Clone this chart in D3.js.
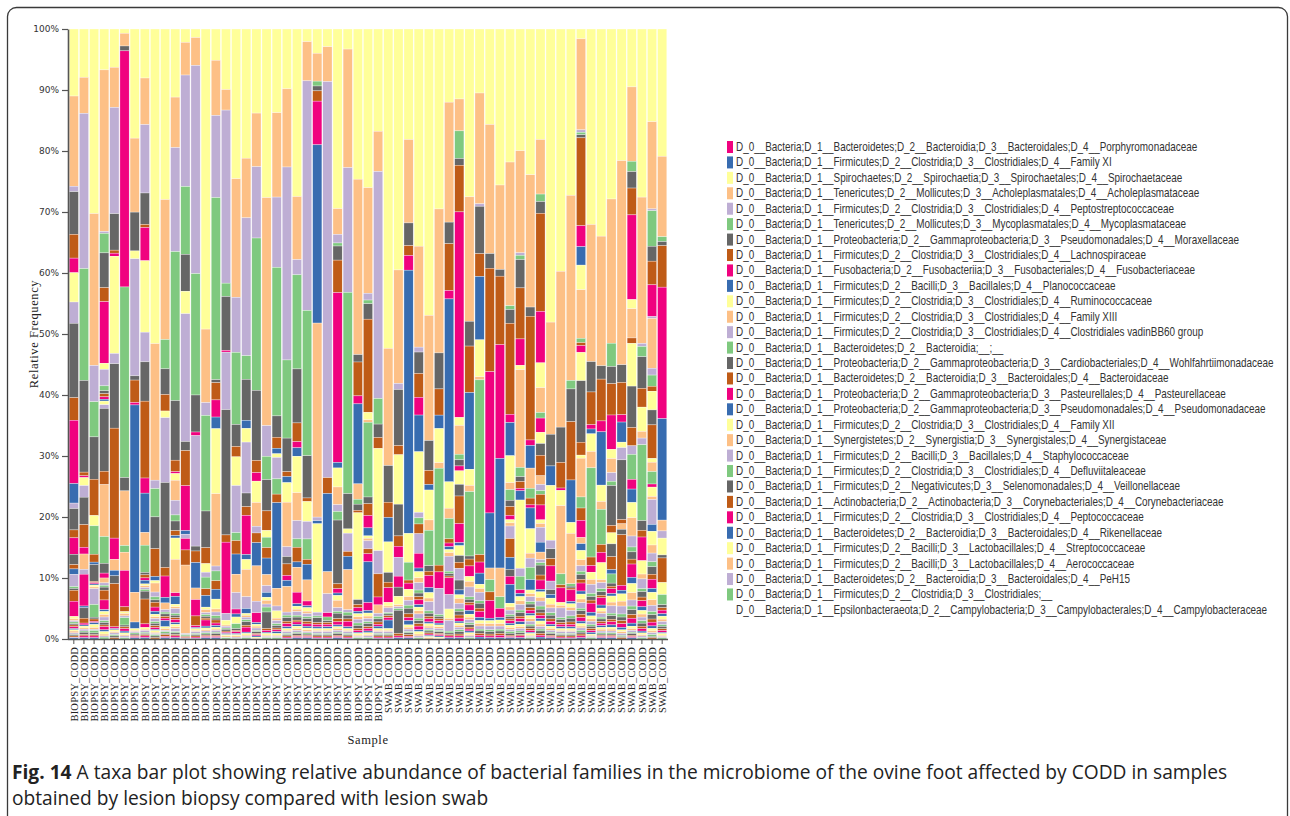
<!DOCTYPE html>
<html>
<head>
<meta charset="utf-8">
<script src="https://cdn.jsdelivr.net/npm/d3@7"></script>
<style>
  html, body { margin: 0; padding: 0; background: #fff; }
  svg { display: block; }
</style>
</head>
<body>
<svg id="chart" width="1290" height="816"></svg>
<script>
// ---- Sample names (x axis), one per bar ----
const sampleLabels = [
  "BIOPSY_CODD","BIOPSY_CODD","BIOPSY_CODD","BIOPSY_CODD","BIOPSY_CODD","BIOPSY_CODD","BIOPSY_CODD","BIOPSY_CODD",
  "BIOPSY_CODD","BIOPSY_CODD","BIOPSY_CODD","BIOPSY_CODD","BIOPSY_CODD","BIOPSY_CODD","BIOPSY_CODD","BIOPSY_CODD",
  "BIOPSY_CODD","BIOPSY_CODD","BIOPSY_CODD","BIOPSY_CODD","BIOPSY_CODD","BIOPSY_CODD","BIOPSY_CODD","BIOPSY_CODD",
  "BIOPSY_CODD","BIOPSY_CODD","BIOPSY_CODD","BIOPSY_CODD","BIOPSY_CODD","BIOPSY_CODD","BIOPSY_CODD",
  "SWAB_CODD","SWAB_CODD","SWAB_CODD","SWAB_CODD","SWAB_CODD","SWAB_CODD","SWAB_CODD","SWAB_CODD",
  "SWAB_CODD","SWAB_CODD","SWAB_CODD","SWAB_CODD","SWAB_CODD","SWAB_CODD","SWAB_CODD","SWAB_CODD",
  "SWAB_CODD","SWAB_CODD","SWAB_CODD","SWAB_CODD","SWAB_CODD","SWAB_CODD","SWAB_CODD","SWAB_CODD",
  "SWAB_CODD","SWAB_CODD","SWAB_CODD","SWAB_CODD"
];

// ---- Family names listed in the legend ----
const taxa = [
  "D_0__Bacteria;D_1__Bacteroidetes;D_2__Bacteroidia;D_3__Bacteroidales;D_4__Porphyromonadaceae",
  "D_0__Bacteria;D_1__Firmicutes;D_2__Clostridia;D_3__Clostridiales;D_4__Family XI",
  "D_0__Bacteria;D_1__Spirochaetes;D_2__Spirochaetia;D_3__Spirochaetales;D_4__Spirochaetaceae",
  "D_0__Bacteria;D_1__Tenericutes;D_2__Mollicutes;D_3__Acholeplasmatales;D_4__Acholeplasmataceae",
  "D_0__Bacteria;D_1__Firmicutes;D_2__Clostridia;D_3__Clostridiales;D_4__Peptostreptococcaceae",
  "D_0__Bacteria;D_1__Tenericutes;D_2__Mollicutes;D_3__Mycoplasmatales;D_4__Mycoplasmataceae",
  "D_0__Bacteria;D_1__Proteobacteria;D_2__Gammaproteobacteria;D_3__Pseudomonadales;D_4__Moraxellaceae",
  "D_0__Bacteria;D_1__Firmicutes;D_2__Clostridia;D_3__Clostridiales;D_4__Lachnospiraceae",
  "D_0__Bacteria;D_1__Fusobacteria;D_2__Fusobacteriia;D_3__Fusobacteriales;D_4__Fusobacteriaceae",
  "D_0__Bacteria;D_1__Firmicutes;D_2__Bacilli;D_3__Bacillales;D_4__Planococcaceae",
  "D_0__Bacteria;D_1__Firmicutes;D_2__Clostridia;D_3__Clostridiales;D_4__Ruminococcaceae",
  "D_0__Bacteria;D_1__Firmicutes;D_2__Clostridia;D_3__Clostridiales;D_4__Family XIII",
  "D_0__Bacteria;D_1__Firmicutes;D_2__Clostridia;D_3__Clostridiales;D_4__Clostridiales vadinBB60 group",
  "D_0__Bacteria;D_1__Bacteroidetes;D_2__Bacteroidia;__;__",
  "D_0__Bacteria;D_1__Proteobacteria;D_2__Gammaproteobacteria;D_3__Cardiobacteriales;D_4__Wohlfahrtiimonadaceae",
  "D_0__Bacteria;D_1__Bacteroidetes;D_2__Bacteroidia;D_3__Bacteroidales;D_4__Bacteroidaceae",
  "D_0__Bacteria;D_1__Proteobacteria;D_2__Gammaproteobacteria;D_3__Pasteurellales;D_4__Pasteurellaceae",
  "D_0__Bacteria;D_1__Proteobacteria;D_2__Gammaproteobacteria;D_3__Pseudomonadales;D_4__Pseudomonadaceae",
  "D_0__Bacteria;D_1__Firmicutes;D_2__Clostridia;D_3__Clostridiales;D_4__Family XII",
  "D_0__Bacteria;D_1__Synergistetes;D_2__Synergistia;D_3__Synergistales;D_4__Synergistaceae",
  "D_0__Bacteria;D_1__Firmicutes;D_2__Bacilli;D_3__Bacillales;D_4__Staphylococcaceae",
  "D_0__Bacteria;D_1__Firmicutes;D_2__Clostridia;D_3__Clostridiales;D_4__Defluviitaleaceae",
  "D_0__Bacteria;D_1__Firmicutes;D_2__Negativicutes;D_3__Selenomonadales;D_4__Veillonellaceae",
  "D_0__Bacteria;D_1__Actinobacteria;D_2__Actinobacteria;D_3__Corynebacteriales;D_4__Corynebacteriaceae",
  "D_0__Bacteria;D_1__Firmicutes;D_2__Clostridia;D_3__Clostridiales;D_4__Peptococcaceae",
  "D_0__Bacteria;D_1__Bacteroidetes;D_2__Bacteroidia;D_3__Bacteroidales;D_4__Rikenellaceae",
  "D_0__Bacteria;D_1__Firmicutes;D_2__Bacilli;D_3__Lactobacillales;D_4__Streptococcaceae",
  "D_0__Bacteria;D_1__Firmicutes;D_2__Bacilli;D_3__Lactobacillales;D_4__Aerococcaceae",
  "D_0__Bacteria;D_1__Bacteroidetes;D_2__Bacteroidia;D_3__Bacteroidales;D_4__PeH15",
  "D_0__Bacteria;D_1__Firmicutes;D_2__Clostridia;D_3__Clostridiales;__",
  "D_0__Bacteria;D_1__Epsilonbacteraeota;D_2__Campylobacteria;D_3__Campylobacterales;D_4__Campylobacteraceae"
];

// ---- Relative abundance (%) per sample, listed from the top of each bar downwards ----
const biopsyAbundance = [
  [11,14.8,0.9,0,7,3.9,2.4,0, 4.8,0,3.5,0,12.2,3.7,10.4,3.2, 0,0,0.9,0,3.5,1.3,2.7,0, 0,0,0,0,1.7,0.7,0,0.9, 0,0,2,0.3,0.3,1.8,2.5,0, 0.4,0.3,0.2,0.3,0.2,0.3,0.3,0.2, 0.2,0.3,0.2,0.1,0.2,0.2,0.1,0.2],
  [7.9,5.9,25.4,18.3,15,0.6,0.3,0, 1.3,0,1.9,0,4.5,3.7,1.1,0, 0,2.5,0.8,0,0,0,5.2,0.3, 0,0,0,0,1.7,0.8,0.3,0.2, 0.3,0.2,0.3,0.2,0.4,0.2,0.3,0.2],
  [30.5,25.1,6,5.8,7,6,0,0, 1.7,0,0,4.7,0,1.3,0,0.4, 0,0,0,0,2.8,0.2,0.2,0.2, 0.3,0.3,2.6,2.1,0.3,0.4,0.2,0.3, 0.5,0.3,0.2,0.4,0.3,0.2,0.3,0.2],
  [6.7,26.5,0.3,3.2,5.7,2.3,10.1,0, 1,0,2.7,0.8,0.5,0.5,0.4,0.3, 0.6,0,0.6,0,10.3,2.2,0,0, 0,8.5,0,4.4,1.6,0,0.8,0, 0,0.8,0.4,0.3,0.5,1.6,1.6,0.3, 0.5,0.4,0.6,0.3,0.4,0.3,0.5,0.3, 0.4,0.3,0.2,0.3],
  [6.3,6.6,17.5,0,6,0.5,0.5,0, 16,0,1.7,0,10.6,18.1,3.5,0, 0,1.8,0,0,0,0,0,0.9, 0,0,0,0,1.3,7.1,0.3,0.2, 0.3,0.2,0.3,0.2,0.3,0.2],
  [0.7,2.1,0,0,0.8,0,38.9,0, 0,0,0,31.4,2.2,0,0,0, 0,9,0,1.1,0,0,0,0, 0,3,0,0,0,0,6,0, 0,0,0,0,0,0.8,0,0, 0.3,0.4,0.3,1.2,0.3,0.3,0.4,0.3, 0.3,0.2,0.3,0.2],
  [18,12.2,0,0,6.4,0,0,0, 1.3,0,19.3,0,0.7,3.7,0.4,30.9, 0,4.9,0,0,0,0,0,1.1, 0.3,0.2,0.2,0.2,0.2,0.2,0.2,0.2],
  [8.1,7.7,11.3,0,5.2,0.5,5.5,0, 11.8,0,4.9,0,6.5,12.7,2.5,6.5, 0,2.1,0,4.5,0.4,0.5,0.4,0.6, 0.3,0.3,0.3,0.3,1.3,4.1,0.6,0, 0.3,0.2,0.3,0.2,0.2,0.2,0.3,0.2],
  [52.3,22.7,1.4,4.7,5.3,4.6,0,0.7, 0.4,1.5,0.8,0.5,0.4,0.8,0.7,0.5, 0.4,0.3,0.5,0.3,0.4,0.3,0.3,0.2, 0.3,0.2,0.2,0.2,0.3,0.2],
  [27.9,22.9,0,4.8,4.2,2.7,0,0, 1.1,0,10.6,0,13.9,1.4,3.5,0.9, 0,1.1,0.4,0.3,0.4,0.3,0.4,1, 0.3,0.3,0.2,0.3,0.2,0.3,0.2,0.2],
  [11.2,8.3,17.1,24.5,9.8,1.9,0.3,0, 1.1,3.3,2.4,1,1.6,0.8,0,0.4, 3.5,5.5,0,0,0,0,0.6,1.3, 0.4,0.3,0.8,0.3,0.4,0.3,0.5,0.3, 0.4,0.3,0.5,0.2,0.3,0.2,0.3,0.2],
  [2.2,5.4,18.4,11.2,6.1,0,0,0, 3.7,0,21.1,0,1.5,5.8,7.4,0.6, 0,0,0.7,0,0,0,1.9,0, 0,0,0,0,0,2.5,0,0, 0,11.3,0.2,0.2,0.1,0.2,0.1,0.1],
  [1.4,4.6,34.3,20,6.1,0,0.6,0, 0,0,18.2,0,0.8,1.9,0,4.2, 0,1.9,0,0,0,0,2.7,0, 0,0,0,0,0,1.6,0.3,0.2, 0.3,0.2,0.3,0.2,0.2,0.2,0.2,0.1],
  [49,12,2.1,15.6,6,2.6,0,0, 1.4,0,0.8,1.9,0,1.1,0,1.9, 0.4,0.5,0.3,0.3,0.3,0.3,1,0.3, 0.3,0.2,0.3,0.2,0.2,0.2,0.2,0.2],
  [5.1,9,13.4,29.7,0.5,2.8,2.8,1.9, 10.6,11.8,0.8,1.6,0,1.4,0,1.6, 1.6,0.5,0.6,0.4,0.3,0.5,0.4,0.3, 0.3,0.2,0.3,0.2,0.3,0.2,0.2,0.2],
  [10,3.4,28.6,2.2,8.9,0,0.3,0, 0,0,9.5,0,20.7,1.2,11.8,0, 0,0,1.1,0,0,0,0,0, 0.8,0.2,0.3,0.2,0.3,0.2,0.2,0.2, 0.2,0.2,0.1,0.2],
  [24.5,19.4,9,11.8,3.6,1.7,0,0, 4.7,0,7.7,1.3,0,2.2,0,3.3, 0,3,2.7,0,0,0,0.8,0.5, 1.1,0,0,0.8,0.3,0.2,0.3,0.2, 0.2,0.2,0.2,0.1],
  [20.8,9.6,22.2,3.8,6.6,0,0,1.3, 2.2,0,8.2,0,2.2,1.4,6.3,0.8, 1.6,4.4,1.9,0,0,0,0,0.8, 0.3,0.3,0.4,0.3,0.6,0.3,0.8,0.2, 0.3,0.2,0.2,0.2],
  [13.8,8.8,11.7,25,11.5,2,1.4,0, 3.5,3.9,1.1,0,0,1.6,0,3.8, 0,5.8,1.9,0,0,0,1.6,0.3, 0.3,0.3,0.4,0.2,0.3,0.2,0.2,0.2, 0.2,0.1],
  [27.5,37.2,5,3.8,5.1,3.2,0,0, 1.1,0,0,1.7,0,1.7,0,2.7, 0,1.8,1.1,0,0,0,0,0.8, 0.5,0.6,0.5,0.8,2.7,0.3,0.3,0.2, 0.3,0.2,0.2,0.2],
  [13.7,13.8,11.5,24.3,3.5,1.8,0,0.9, 0.6,0,3.5,2.5,0,1.4,0,14, 0,2.9,0.8,0,0,0,0,0, 1.2,0.4,0.5,0.3,0.4,0.3,0.3,0.3, 0.3,0.2,0.2,0.2],
  [9.8,12.8,31.6,12.8,5.5,0.8,0,1, 3.2,7.3,1.6,0,1.2,1.9,0.8,1, 0,4.2,0.5,0.4,0.6,0.4,0.5,0.3, 0.3,0.2,0.3,0.2,0.2,0.2,0.2,0.1],
  [27.6,10.4,2.5,15.5,8.9,3.1,1,1.4, 6,4.6,3,1.4,0,2.4,0,0.9, 0,4.1,0,0,0,0,1.9,0.4, 0.5,0.4,0.6,0.3,0.5,0.3,0.4,0.3, 0.4,0.3,0.3,0.2,0.3,0.2,0.2,0.2],
  [2.1,6.5,38.1,24.1,7,0.6,0,0, 3.3,0,2.9,3.4,0,0.8,0,2.6, 0,3.5,0,0,0,0,0.8,0.3, 0.6,0.4,0.5,0.3,0.5,0.4,0.4,0.3, 0.3,0.3,0.2,0.2,0.2,0.2,0.2,0.2],
  [4,4.6,0,0.8,0.8,1.7,7.2,29.4, 0,32,0.6,0,0,0,0,0.5, 14.6,0,0.6,0.3,0.8,0.3,0.4,0.3, 0.3,0.2,0.3,0.2,0.2,0.2,0.2,0.1],
  [2.9,5.7,64.8,0,0,2.6,0,12.8, 0,3.6,3.1,0,0,0,0.7,0, 0,0,0,0.6,0.3,0.3,0.4,0.3, 0.3,0.2,0.3,0.2,0.2,0.2,0.2,0.1],
  [29.3,4.2,1.4,0.5,2.3,5.3,27.7,0.9, 3.1,2.9,1.1,1.4,10.4,0.8,0.7,0.4, 0.8,1.2,0.6,0.3,0.9,0.5,0.5,0.3, 0.3,0.3,0.3,0.2,0.3,0.2,0.2,0.2],
  [3.3,19.5,20.5,33.1,5.8,0,0,0, 0.7,0,3,0,0,0.8,0,2.2, 0,6.6,0.4,0.5,0.6,0.4,0.9,0.3, 0.3,0.2,0.3,0.2,0.2,0.2,0.2,0.1],
  [24.4,28.5,0,0,1.2,5.5,1.3,13, 0,2.5,0,0.8,1,0.4,0,0, 14.1,0,0,0,0.8,0.5,0.6,0.4, 0.5,0.4,0.6,0.4,0.5,0.3,0.3,0.2, 0.3,0.2,0.2,0.2],
  [25.7,17.1,1.1,0.6,2.5,15.1,0,0, 1.2,0.4,0,12.1,1.1,1.9,2,1.3, 0.4,0.4,1.3,0,0,0.8,1.3,6.6, 0,0,0,0,0,0,1.3,0.4, 0.5,0.4,0.5,0.3,0.5,0.3,0.4,0.3, 0.3,0.2,0.3,0.2],
  [16.8,6.6,37.3,4.2,2.2,1.8,0,0, 16.8,0,3.8,0,0,3.8,1.3,0, 0,1.4,0.5,0.4,0.5,0.4,0.3,0.4, 0.3,0.2,0.3,0.2,0.2,0.2,0.2,0.1]
];

const swabAbundance = [
  [52.3,19.2,0,0,6,2.5,0,4, 5,0,0,0,1.6,0.9,2.4,0, 0.6,0.3,0.8,0.2,0.3,0.3,0.4,1.4, 0.3,0.2,0.3,0.2,0.2,0.2,0.2,0.1],
  [39.5,18.6,1,0,9.2,1.5,0,0, 8.1,0,0,0,5.2,1.7,1.8,0, 0,0,3.1,0,0,0,1.8,0, 0,0,0,0,1.5,0,0,0, 1.4,0.3,0.3,0.3,3.8,0.4,0.3,0.2],
  [18,13.6,0,0,3.7,1.6,2.4,42.9, 4.7,0,0,2.9,0,0.5,1,0, 1.2,0.6,0.8,0.5,0.9,0.6,0.5,0.7, 0.4,0.3,0.4,0.2,0.3,0.3,0.2,0.2],
  [35.5,16.5,0.8,0,3.5,3.9,2.9,6, 9.9,0,0.9,1,0,1.6,0,0, 0,0,3.2,0,0,0,2.4,0.6, 1,0.8,1.2,0.5,0.6,0.5,0.8,0.4, 0.6,0.5,0.7,0.4,0.5,0.4,0.6,0.3, 0.4,0.3,0.3,0.2],
  [46.9,20.5,0,0,4.9,2.3,0,0.9, 4.9,1.7,0,5.8,0.9,0.7,2,0.8, 0.9,0.6,1.5,0.4,0.5,0.4,0.5,0.3, 0.4,0.3,0.3,0.2,0.3,0.2,0.2,0.2, 0.2,0.2],
  [29.5,23.6,0,0,5.9,4.3,0,2.2, 5.6,0.9,0,15.9,0,1.1,2.7,0, 0,0,4.3,0.3,0.4,0.3,0.4,0.3, 0.3,0.3,0.3,0.2,0.3,0.2,0.2,0.2, 0.2,0.1],
  [12.2,20,0,0,3.6,7.8,1.4,30.5, 4.4,1.7,0,3.4,0,0.7,0.6,0.5, 0.5,0.6,2.5,0.4,0.4,0.3,2.8,0, 0,0,2.4,0,0,0,0,0, 1.6,0.3,1.8,0.3,0.3,0.2,0.3,0.2],
  [11.4,5.2,0,4.5,1.1,7.6,33.5,0, 1.3,4.7,0,0.9,1,0,0.8,0, 2.2,0,0,0,1.9,4.5,3.1,0.5, 1.6,0,0,0,1.1,1,0,0, 0,0,1.9,0,1.6,0,0,0.8, 0.6,0.8,0.9,0.4,0.6,0.5,0.5,0.3, 0.4,0.3,0.4,0.3,0.4,0.3,0.3,0.2],
  [27.1,20.1,0,0,4,7.5,0,12.4, 2.6,1,0,10.4,0.5,1.1,1.7,0, 0.8,0.9,1.6,0.4,0.5,0.4,0.9,0.6, 0.5,0.4,0.5,0.3,0.4,0.3,0.3,0.3, 0.3,0.2,0.3,0.2],
  [10.4,18,0.4,0,7.7,3.7,0,10.3, 6,0.5,0,28.4,0,1.2,1.8,1.8, 0.7,0.6,1.4,0.4,0.8,0.5,1,0.5, 0.5,0.4,0.5,0.3,0.4,0.3,0.3,0.3],
  [15.6,21.1,0,0,2.4,16.9,23.1,9, 0,1.9,0,2,0,1.4,2.9,0.4, 0.5,0.4,0.6,0.3,0.4,0.3,0.3,0.2],
  [25.5,13.8,0,0,1.1,11.2,18.6,17.9, 0,4.7,0,1.9,0,0,1.5,0.4, 0.6,0.4,0.5,0.3,0.4,0.3,0.4,0.2],
  [21.2,22.9,0,0.6,2.2,14.5,1.3,5.3, 4.3,1.1,0,1.7,1,1.4,0.7,0, 0.5,0.5,2,0,0,3,0,1.9, 0,0,0,0,1.1,0,1.3,3, 0.6,0.5,0.7,0.3,0.4,0.3,0.4,0.3, 0.4,0.3,0.3,0.3,0.3,0.2,0.2,0.2],
  [19.8,16.6,0.4,0.7,4.6,8.3,4.3,0, 0.7,15.9,0,1.5,0.8,1.1,0.4,1.5, 11.1,0,1.3,2.2,0,0,0.6,0.5, 0.7,0.6,0.9,0.4,0.6,0.4,0.5,0.4, 0.4,0.3,0.4,0.3,0.3,0.2,0.3,0.2],
  [23.8,21.6,0,0,1.5,20.2,0.9,3.7, 0,3.3,0,1.6,0,1.1,0.5,3.4, 4,0.8,1.5,2,0,0,0,1.7, 0.6,0.5,0.8,0.4,0.6,0.4,0.5,0.4, 0.5,0.4,0.5,0.3,0.4,0.3,0.3,0.2, 0.3,0.2,0.2,0.2],
  [17.8,8.8,0,1.2,1.9,15.8,8.3,0, 4,4,0,0.9,0,0,2.3,0, 1.8,0,0,0,1.9,3.3,0,0, 0,1.4,1,0.6,0,1.7,2.4,0, 0.6,0.6,2.4,0,0,0,0,1.6, 0,1.2,0.5,0.4,1.6,0.8,1.5,0.4, 0.9,0.6,0.8,0.5,0.6,0.4,0.5,0.4, 0.5,0.4,0.4,0.3,0.4,0.3,0.3,0.3],
  [48.1,18.4,0,0,5.2,0,0,3.2, 9,0,1.4,0,1.6,1.2,2.5,0, 0,0,1.4,0,0.8,0,0,0.6, 1,0.6,0.8,0.4,0.6,0.4,0.5,0.3, 0.4,0.3,0.3,0.2,0.3,0.2,0.2,0.2],
  [39.8,25.6,0,0,5.8,4.2,0.4,0, 2.5,11.2,0,1.8,0,0.5,2.4,0, 0.5,0.4,1.6,0.3,0.5,0.3,0.4,0.3, 0.3,0.2,0.3,0.2,0.2,0.2,0.2,0.1],
  [27.4,30.5,0,1.4,5.4,9.6,0,7, 1.8,8.3,0,0.4,0.3,0.3,1.9,0.4, 0.6,0.5,0.9,0.4,0.6,0.4,0.4,0.3, 0.3,0.2,0.3,0.2,0.2,0.2,0.2,0.1],
  [1.6,14.8,0.4,0.4,0.5,14.3,3.4,3, 4,7.9,0,0.7,0,0.5,1.1,0, 4.6,0,0,0,10,2.1,0,0, 0.5,6.3,0,1.8,0,2,2.8,0, 0,1,0,0,0,0,0,1.1, 1.5,1,0.9,0.5,0.8,0.6,1.3,0.5, 0.8,0.6,0.9,0.4,0.6,0.5,0.6,0.4, 0.4,0.3,0.4,0.3,0.3,0.3,0.3,0.2],
  [32.2,22.6,0,0,5,5.4,0.7,0.8, 2.9,2.7,0,14.7,0,1.4,1.1,0, 1.2,0.8,1.5,0.5,0.6,0.5,1.5,0.6, 0.5,0.4,0.5,0.3,0.4,0.3,0.3,0.3, 0.2,0.2,0.2,0.2],
  [34.2,21.4,0,0,2.2,6.9,1.8,8.8, 2.7,1.3,0,5.8,0,1.3,1.7,0, 2.8,0.5,1,0.5,0.6,0.4,1.2,0.5, 0.5,0.4,0.6,0.3,0.4,0.3,0.4,0.3, 0.3,0.3,0.3,0.2,0.2,0.2,0.2,0.2],
  [27.7,23.5,0,3.8,2.8,5.1,5.6,0, 1.5,2.3,1.4,0.7,6.5,1.2,0,0, 1.8,0,0,0,2.1,2.1,0,0.7, 0,0,0,1.5,0.5,0.4,0.8,0.4, 1,0.6,1.2,0.4,0.6,0.4,0.5,0.4, 0.3,0.3,0.3,0.2,0.2,0.2,0.2,0.2],
  [21.6,33.5,0,0,2.9,5.3,1.2,3.3, 0.9,0,2,0,9.8,0.7,0,0, 0,0.9,0,0,0.9,8.3,0.8,0.6, 1.2,0.8,1.3,0.5,0.6,0.5,0.6,0.4, 0.3,0.3,0.3,0.2,0.2,0.2],
  [9.5,12.2,0,1.7,2.7,4.4,13.9,0, 1.5,4.8,0,0,0,0.9,0,0, 7,0,0,0,6.8,3,0,0, 0,0,1.4,4.1,0,0,1.6,2.2, 2.5,3,1.8,0.8,1.2,0.8,2.2,1, 1.5,1.2,1,0.6,0.8,0.6,0.8,0.5, 0.4,0.3,0.3,0.2,0.3,0.2,0.2,0.2],
  [27.7,24.1,0.5,1.7,5.2,3.1,0,0, 4,1.1,1.1,12.5,1.6,1.1,3.9,0, 2.2,0.8,1.6,0.5,0.9,0.6,1,0.6, 0.6,0.5,0.6,0.4,0.5,0.4,0.4,0.3, 0.3,0.2,0.3,0.2],
  [14.9,14,0.3,5.7,2.4,3.8,5.1,0, 0,0,0.3,0,0,0,0,0, 0,8,1.1,1.8,0,0.8,0,0, 3,0,0,0,2.4,5.4,0,0, 0.6,1.5,0,2,0,0,0.5,0, 1.5,0.5,4,0,0,0,0,1.1, 2.2,1.3,1.4,0.8,1.2,0.8,1.5,0.6, 1.2,0.9,1,0.5,0.7,0.5,0.6,0.4, 0.4,0.3,0.3,0.3,0.2,0.2],
  [21.2,13.4,0,0.8,0.7,6.9,21.9,16.9, 0,1.8,1.2,0,0,0,0,0, 2.8,0,0,0,0.5,4.1,0,0, 2,0,0,1.7,0.5,0.4,0.6,0.4, 0.5,0.4,0.5,0.3,0.4,0.3,0.3,0.2, 0.3,0.2,0.2,0.2]
];

const yTicks = [0, 0.1, 0.2, 0.3, 0.4, 0.5, 0.6, 0.7, 0.8, 0.9, 1];

// ---- Drawing ----
const palette = ["#f0027f", "#386cb0", "#ffff99", "#fdc086", "#beaed4", "#7fc97f", "#666666", "#bf5b17"];
const legendColor = k => palette[k % palette.length];
const rankColor = r => palette[(r + 2) % palette.length];   // topmost rank starts on the yellow

const svg = d3.select("#chart");
const plot = { left: 69, right: 667, top: 29, bottom: 639 };

const samples = biopsyAbundance.concat(swabAbundance);
const nRanks = d3.max(samples, s => s.length);
const keys = d3.range(nRanks);
const rows = samples.map(s => {
  const o = {};
  keys.forEach(k => { o[k] = s[k] || 0; });
  return o;
});

const series = d3.stack()
  .keys(keys)
  .order(d3.stackOrderReverse)        // first rank sits on top of the bar
  .offset(d3.stackOffsetExpand)(rows);

const x = d3.scaleBand()
  .domain(d3.range(samples.length))
  .range([plot.left, plot.right])
  .paddingInner(0.09)
  .paddingOuter(0.02);

const y = d3.scaleLinear().domain([0, 1]).range([plot.bottom, plot.top]);

// outer frame
svg.append("rect")
  .attr("x", 7.5).attr("y", 7.5)
  .attr("width", 1280).attr("height", 900)
  .attr("rx", 9)
  .attr("fill", "none")
  .attr("stroke", "#3a3a3a")
  .attr("stroke-width", 1.3);

// stacked bars
const layer = svg.append("g").attr("class", "bars");
layer.selectAll("g")
  .data(series)
  .join("g")
  .attr("fill", d => rankColor(d.key))
  .selectAll("rect")
  .data(d => d.map((v, i) => ({ v, i })).filter(p => p.v[1] - p.v[0] > 0))
  .join("rect")
  .attr("x", p => x(p.i))
  .attr("width", x.bandwidth())
  .attr("y", p => y(p.v[1]))
  .attr("height", p => y(p.v[0]) - y(p.v[1]))
  .attr("stroke", "#ffffff")
  .attr("stroke-width", 0.45)
  .attr("stroke-opacity", 0.7);

// y axis
const yAxis = svg.append("g")
  .attr("transform", `translate(${plot.left - 1},0)`)
  .call(d3.axisLeft(y).tickValues(yTicks).tickFormat(d3.format(".0%")).tickSize(6).tickSizeOuter(0));
yAxis.select(".domain").attr("stroke", "#555").attr("stroke-width", 1.6);
yAxis.selectAll(".tick line").attr("stroke", "#555").attr("stroke-width", 1.2);
yAxis.selectAll("text")
  .attr("font-family", "DejaVu Sans, Verdana, sans-serif")
  .attr("font-size", 9)
  .attr("fill", "#333")
  .attr("x", -9);

// x axis
const xAxis = svg.append("g")
  .attr("transform", `translate(0,${plot.bottom})`)
  .call(d3.axisBottom(x).tickFormat(i => sampleLabels[i]).tickSize(5).tickSizeOuter(0));
xAxis.select(".domain").attr("stroke", "#555").attr("stroke-width", 1.6)
  .attr("d", `M${plot.left - 1},0.5H${plot.right + 1}`);
xAxis.selectAll(".tick line").attr("stroke", "#555").attr("stroke-width", 1);
xAxis.selectAll("text")
  .attr("font-family", "Liberation Serif, Times New Roman, serif")
  .attr("font-size", 10.5)
  .attr("letter-spacing", 0.2)
  .attr("fill", "#222")
  .attr("text-anchor", "end")
  .attr("transform", "rotate(-90)")
  .attr("x", -8)
  .attr("y", 0)
  .attr("dy", "0.35em");

// axis titles
svg.append("text")
  .attr("x", 368).attr("y", 744)
  .attr("text-anchor", "middle")
  .attr("font-family", "Liberation Serif, Times New Roman, serif")
  .attr("font-size", 12.5)
  .attr("letter-spacing", 0.6)
  .attr("fill", "#222")
  .text("Sample");

svg.append("text")
  .attr("transform", "translate(38,334) rotate(-90)")
  .attr("text-anchor", "middle")
  .attr("font-family", "Liberation Serif, Times New Roman, serif")
  .attr("font-size", 12.5)
  .attr("letter-spacing", 0.6)
  .attr("fill", "#222")
  .text("Relative Frequency");

// legend: condensed labels; the longest family line is fitted to about 538px
const legend = svg.append("g").attr("transform", "translate(727,141)");
const item = legend.selectAll("g")
  .data(taxa)
  .join("g")
  .attr("transform", (d, k) => `translate(0,${k * 15.43})`);
item.filter((d, k) => k < taxa.length - 1)
  .append("rect")
  .attr("width", 6).attr("height", 12)
  .attr("fill", (d, k) => legendColor(k));
const labelG = item.append("g").attr("class", "lbl");
labelG.append("text")
  .attr("x", 0).attr("y", 10)
  .attr("font-family", "Liberation Sans, Arial, sans-serif")
  .attr("font-size", 12)
  .attr("fill", "#333")
  .text(d => d);
const longest = d3.max(labelG.selectAll("text").nodes(), n => n.getComputedTextLength());
const squeeze = Math.min(490 / labelG.select("text").node().getComputedTextLength(), 538 / longest);
labelG.attr("transform", `translate(9,0) scale(${squeeze},1)`);

// caption, sized so the first line spans the figure width
const cap = svg.append("text")
  .attr("font-family", "Open Sans, Noto Sans, sans-serif")
  .attr("font-size", 16.5)
  .attr("fill", "#222");
const line1 = cap.append("tspan").attr("x", 12).attr("y", 779);
line1.append("tspan").attr("font-weight", "bold").text("Fig. 14");
line1.append("tspan").text(" A taxa bar plot showing relative abundance of bacterial families in the microbiome of the ovine foot affected by CODD in samples");
cap.append("tspan").attr("x", 12).attr("y", 805)
  .text("obtained by lesion biopsy compared with lesion swab");
const capLen = line1.node().getComputedTextLength();
cap.attr("font-size", 16.5 * 1216 / capLen);
</script>
</body>
</html>
